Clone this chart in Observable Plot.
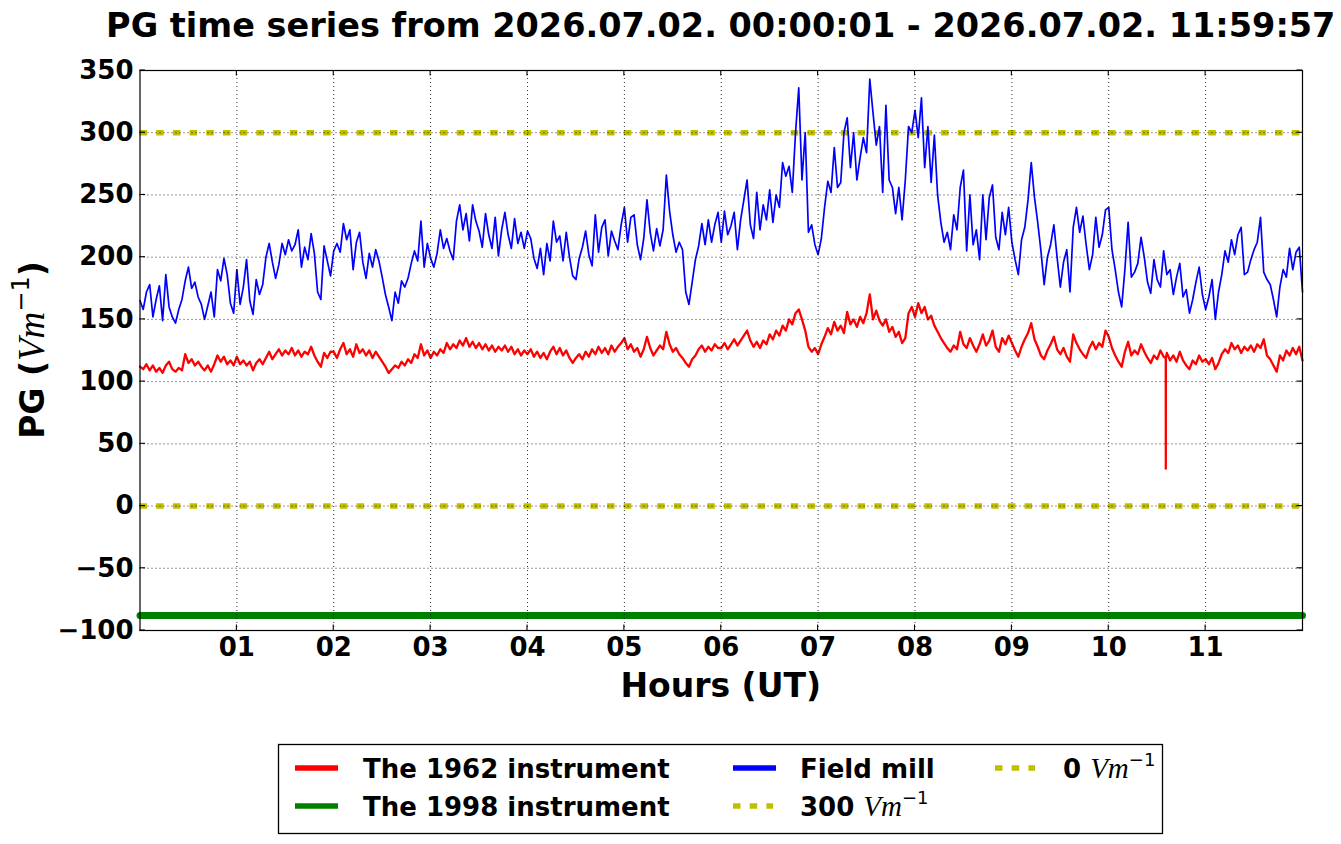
<!DOCTYPE html>
<html><head><meta charset="utf-8">
<script src="https://cdn.jsdelivr.net/npm/d3@7"></script>
<script src="https://cdn.jsdelivr.net/npm/@observablehq/plot@0.6"></script>
<style>
body{margin:0;background:#fff;}
svg{display:block;}
</style></head><body>
<div id="chart"></div>
<script>
// ---------- data (2-minute steps within each hour) ----------
const titleText = "PG time series from 2026.07.02. 00:00:01 - 2026.07.02. 11:59:57";
const xTicks = [1,2,3,4,5,6,7,8,9,10,11];
const yTicks = [-100,-50,0,50,100,150,200,250,300,350];
const refLevels = [0, 300];

const red00 = [112,110,114,109,113,108,111,107,113,116,110,108,111,109,122,115,118,113,116,112,109,113,108,114,121,116,120,114,117,113];
const red01 = [120,114,117,113,116,109,115,118,114,119,124,118,122,126,121,125,122,127,121,125,120,124,122,128,121,116,112,123,119,124];
const red02 = [124,119,126,131,122,126,120,130,123,126,121,125,119,124,120,116,112,107,110,113,111,116,113,118,115,122,119,130,121,125];
const red03 = [119,124,121,126,123,131,126,130,127,133,129,135,128,132,127,131,126,130,125,129,124,128,125,129,124,128,122,126,121,125];
const red04 = [122,126,120,124,119,123,118,124,128,122,127,121,125,119,115,119,122,118,124,120,126,122,128,123,127,122,129,124,128,131];
const red05 = [135,126,130,124,127,120,126,136,127,121,125,129,126,140,130,124,127,122,119,115,112,118,121,126,129,124,128,125,130,127];
const red06 = [127,131,126,130,134,129,133,137,141,133,128,132,127,133,130,138,134,141,137,145,141,150,146,155,158,150,141,128,124,127];
const red07 = [122,130,136,143,138,148,141,145,139,156,146,150,144,152,147,155,170,150,157,149,145,150,140,144,136,140,131,135,155,160];
const red08 = [152,163,155,160,150,153,145,140,135,131,127,124,129,126,140,130,127,135,129,124,130,138,129,133,141,128,124,135,130,137];
const red09 = [131,125,120,128,134,139,147,134,128,121,118,125,130,136,126,122,127,120,116,138,131,126,122,119,127,132,126,131,128,141];
const red10 = [136,127,121,116,112,124,132,121,125,122,130,124,119,115,121,118,125,120,123,117,121,116,124,117,113,110,117,114,121,116];
const red11 = [118,114,119,110,115,122,126,123,131,126,129,123,128,125,129,124,130,127,134,121,118,113,108,121,117,125,121,127,122,128];
const redEnd = 117;
const redSpikeT = [10.5885, 10.5890, 10.5895];
const redSpikeV = [119, 30, 119];

const blue00 = [165,158,172,178,152,166,177,149,186,160,152,147,158,166,181,192,175,180,168,162,150,161,172,152,190,181,199,186,163,155];
const blue01 = [190,162,176,198,165,154,182,170,178,200,211,196,183,194,211,202,214,205,210,222,192,208,198,219,203,172,166,209,197,185];
const blue02 = [205,211,204,227,214,222,190,212,220,196,183,203,192,206,197,184,170,160,149,172,163,181,176,183,195,205,197,229,192,211];
const blue03 = [199,192,203,222,207,215,205,198,229,242,222,235,213,242,229,221,208,235,218,207,232,201,222,236,218,207,231,211,220,207];
const blue04 = [221,215,199,191,207,186,211,197,229,212,217,197,220,200,185,182,199,208,221,202,193,234,204,224,230,201,221,213,206,226];
const blue05 = [240,212,232,234,210,198,215,246,220,205,223,209,222,266,237,218,204,212,206,172,162,180,198,209,227,210,230,212,226,236];
const blue06 = [212,237,218,225,236,206,230,246,262,226,215,252,222,242,230,254,228,250,240,276,265,273,252,300,336,262,300,220,226,210];
const blue07 = [202,215,240,261,252,288,256,260,300,312,272,300,262,280,296,284,343,316,290,305,252,322,262,256,235,256,230,262,305,300];
const blue08 = [318,296,328,272,305,260,298,250,228,212,220,206,234,222,256,270,205,250,210,222,198,250,214,248,258,216,206,236,218,240];
const blue09 = [212,198,186,214,224,246,276,248,228,205,178,200,210,226,200,176,196,206,172,224,240,220,233,210,190,202,232,208,218,238];
const blue10 = [240,206,190,172,160,190,228,184,188,195,216,200,180,171,198,182,176,205,186,190,170,184,195,168,174,155,166,180,192,170];
const blue11 = [158,168,182,150,172,186,205,196,214,202,218,224,186,188,198,206,212,232,188,182,178,166,152,176,190,184,207,190,204,208];
const blueEnd = 172;

const greenT = [0,1,2,3,4,5,6,7,8,9,10,11,12];
const greenV = [-88,-88,-88,-88,-88,-88,-88,-88,-88,-88,-88,-88,-88];

const redHours = [red00,red01,red02,red03,red04,red05,red06,red07,red08,red09,red10,red11];
const blueHours = [blue00,blue01,blue02,blue03,blue04,blue05,blue06,blue07,blue08,blue09,blue10,blue11];

function build(hours, endValue) {
  const out = [];
  hours.forEach((arr, h) => arr.forEach((v, i) => out.push({t: h + i / arr.length, v})));
  out.push({t: 12, v: endValue});
  return out;
}
const redData = build(redHours, redEnd);
redSpikeT.forEach((t, i) => redData.push({t, v: redSpikeV[i]}));
redData.sort((a, b) => a.t - b.t);
const blueData = build(blueHours, blueEnd);
const greenData = greenT.map((t, i) => ({t, v: greenV[i]}));

const YELLOW = "#bfbf00";
const fmtY = d => d < 0 ? "\u2212" + (-d) : String(d);
const fmtX = d => String(d).padStart(2, "0");
const gridStyle = {stroke: "black", strokeOpacity: 0.9, strokeWidth: 0.9, strokeDasharray: "1,3"};

const chart = Plot.plot({
  width: 1341, height: 844,
  marginLeft: 139.5, marginRight: 39, marginTop: 70, marginBottom: 214,
  x: {domain: [0, 12]},
  y: {domain: [-100, 350]},
  style: {fontFamily: "DejaVu Sans", background: "white", color: "black", overflow: "visible"},
  marks: [
    Plot.ruleY(refLevels, {stroke: YELLOW, strokeWidth: 5.5, strokeDasharray: "7.5,9.2"}),
    Plot.line(greenData, {x: "t", y: "v", stroke: "#008000", strokeWidth: 7}),
    Plot.line(redData, {x: "t", y: "v", stroke: "#ff0000", strokeWidth: 2.3, strokeLinejoin: "round"}),
    Plot.line(blueData, {x: "t", y: "v", stroke: "#0000ff", strokeWidth: 1.7, strokeLinejoin: "round"}),
    Plot.gridX(xTicks, gridStyle),
    Plot.gridY(yTicks, gridStyle),
    Plot.axisX(xTicks, {tickFormat: fmtX, tickSize: 0, tickPadding: 7, fontSize: 26, fontWeight: "bold", label: null}),
    Plot.axisY(yTicks, {tickFormat: fmtY, tickSize: 0, tickPadding: 6.5, fontSize: 26, fontWeight: "bold", label: null}),
    Plot.frame({stroke: "black", strokeWidth: 1.2})
  ]
});
document.getElementById("chart").appendChild(chart);

// ---------- inward ticks, title, axis labels, legend ----------
const svg = d3.select(chart);
const xs = chart.scale("x"), ys = chart.scale("y");
const L = xs.apply(0), R = xs.apply(12), T = ys.apply(350), B = ys.apply(-100);
const tk = svg.append("g").attr("stroke", "black").attr("stroke-width", 1.1);
const TL = 5.5;
yTicks.forEach(v => {
  const y = ys.apply(v);
  tk.append("line").attr("x1", L).attr("x2", L + TL).attr("y1", y).attr("y2", y);
  tk.append("line").attr("x1", R).attr("x2", R - TL).attr("y1", y).attr("y2", y);
});
xTicks.forEach(v => {
  const x = xs.apply(v);
  tk.append("line").attr("x1", x).attr("x2", x).attr("y1", B).attr("y2", B - TL);
  tk.append("line").attr("x1", x).attr("x2", x).attr("y1", T).attr("y2", T + TL);
});

const cx = (L + R) / 2;
svg.append("text").attr("x", cx).attr("y", 37).attr("text-anchor", "middle")
  .attr("font-family", "DejaVu Sans").attr("font-weight", "bold").attr("font-size", 33.5)
  .attr("fill", "black").text(titleText);

svg.append("text").attr("x", cx).attr("y", 697).attr("text-anchor", "middle")
  .attr("font-family", "DejaVu Sans").attr("font-weight", "bold").attr("font-size", 33)
  .attr("fill", "black").text("Hours (UT)");

function unitText(sel, prefix, size, vmSize, supSize, supRise, suffix) {
  sel.append("tspan").attr("font-weight", "bold").attr("font-family", "DejaVu Sans").text(prefix);
  sel.append("tspan").attr("font-family", "Liberation Serif").attr("font-style", "italic")
    .attr("font-size", vmSize).text("Vm");
  sel.append("tspan").attr("font-family", "DejaVu Sans").attr("font-size", supSize)
    .attr("dy", -supRise).text("\u22121");
  if (suffix) sel.append("tspan").attr("font-weight", "bold").attr("font-family", "DejaVu Sans")
    .attr("font-size", size).attr("dy", supRise).text(suffix);
}
const ylab = svg.append("text").attr("transform", `translate(44,${(T + B) / 2}) rotate(-90)`)
  .attr("text-anchor", "middle").attr("font-size", 33).attr("fill", "black");
unitText(ylab, "PG (", 33, 37, 24, 15, ")");

// legend
const lg = svg.append("g").attr("text-anchor", "start");
lg.append("rect").attr("x", 278.5).attr("y", 744.5).attr("width", 884).attr("height", 89)
  .attr("fill", "white").attr("stroke", "black").attr("stroke-width", 1.3);
const legendItems = [
  {x: 295, y: 768, w: 43, color: "#ff0000", dash: null, label: "The 1962 instrument", tx: 363},
  {x: 295, y: 806, w: 43, color: "#008000", dash: null, label: "The 1998 instrument", tx: 363},
  {x: 733, y: 768, w: 43, color: "#0000ff", dash: null, label: "Field mill", tx: 800},
  {x: 733, y: 806, w: 40, color: YELLOW, dash: "7.5,9.2", label: "300", unit: true, tx: 800},
  {x: 995, y: 768, w: 40, color: YELLOW, dash: "7.5,9.2", label: "0", unit: true, tx: 1063}
];
legendItems.forEach(it => {
  const ln = lg.append("line").attr("x1", it.x).attr("x2", it.x + it.w).attr("y1", it.y).attr("y2", it.y)
    .attr("stroke", it.color).attr("stroke-width", 5.5);
  if (it.dash) ln.attr("stroke-dasharray", it.dash);
  const t = lg.append("text").attr("x", it.tx).attr("y", it.y + 10).attr("font-size", 26)
    .attr("text-anchor", "start").attr("fill", "black").attr("font-family", "DejaVu Sans");
  if (it.unit) unitText(t, it.label + " ", 26, 29, 18, 12, null);
  else t.attr("font-weight", "bold").text(it.label);
});
</script>
</body></html>
